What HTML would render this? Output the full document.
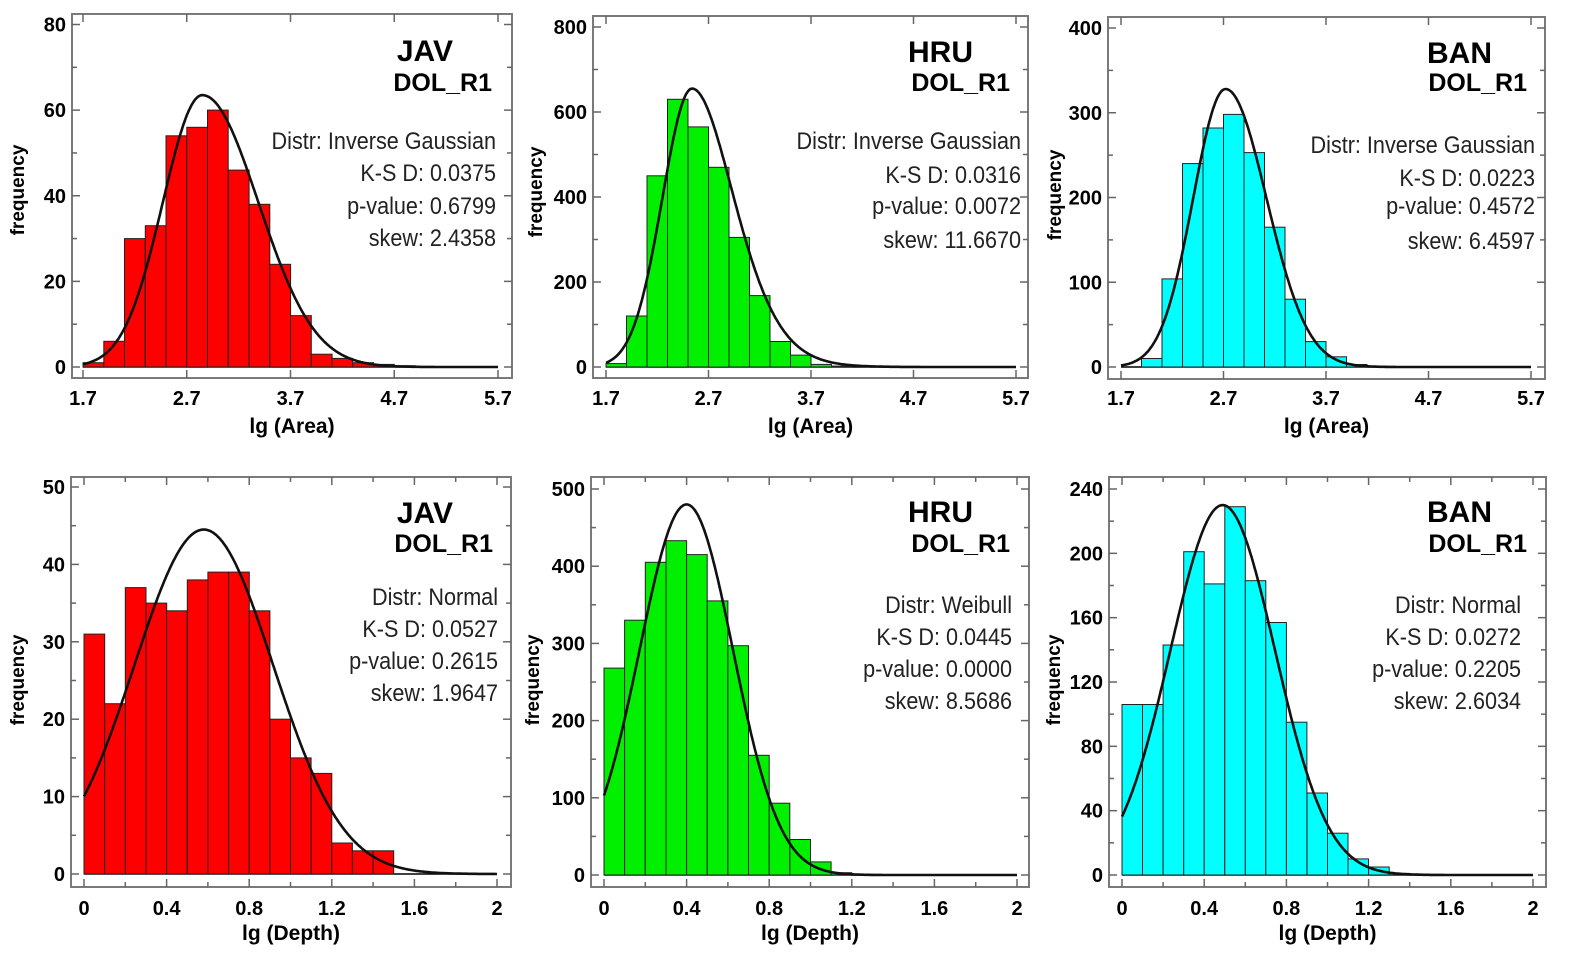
<!DOCTYPE html>
<html><head><meta charset="utf-8"><style>
body{margin:0;background:#fff;}
svg text{font-family:"Liberation Sans",Arial,sans-serif;}
</style></head><body>
<svg id="s" width="1569" height="964" xmlns="http://www.w3.org/2000/svg"></svg>
<script>
const P=[
{fl:72,fr:512,ft:14,fb:378,y0:367,ytop:24.5,ymax:80,ystep:20,yminor:10,x0v:1.7,x1v:5.7,x0:83,x1:498,xt:[1.7,2.7,3.7,4.7,5.7],xl:["1.7","2.7","3.7","4.7","5.7"],xminor:[],
 bs:1.7,bw:0.2,h:[1,6,30,33,54,56,60,46,38,24,12,3,2,1,0.6,0.3],col:"#ff0000",
 cm:2.85,ca:63.5,sl:0.38,sr:0.54,srk:0,t1:"JAV",t1r:453,t1y:60,t2r:492,t2y:91,sr_:496,sy:[148,180,213,245],
 st:["Distr: Inverse Gaussian","K-S D: 0.0375","p-value: 0.6799","skew: 2.4358"],xlab:"lg (Area)",ylx:24,yly:190,xty:404,xly:433},
{fl:593,fr:1028,ft:16,fb:378,y0:367,ytop:27,ymax:800,ystep:200,yminor:100,x0v:1.7,x1v:5.7,x0:606,x1:1016,xt:[1.7,2.7,3.7,4.7,5.7],xl:["1.7","2.7","3.7","4.7","5.7"],xminor:[],
 bs:1.7,bw:0.2,h:[8,120,450,630,565,470,305,168,60,28,6,2],col:"#00f000",
 cm:2.54,ca:655,sl:0.29,sr:0.38,srk:0.07,t1:"HRU",t1r:973,t1y:61,t2r:1010,t2y:91,sr_:1021,sy:[148,182,213,247],
 st:["Distr: Inverse Gaussian","K-S D: 0.0316","p-value: 0.0072","skew: 11.6670"],xlab:"lg (Area)",ylx:542,yly:192,xty:404,xly:433},
{fl:1108,fr:1545,ft:17,fb:379,y0:367,ytop:28,ymax:400,ystep:100,yminor:50,x0v:1.7,x1v:5.7,x0:1121,x1:1531,xt:[1.7,2.7,3.7,4.7,5.7],xl:["1.7","2.7","3.7","4.7","5.7"],xminor:[],
 bs:1.9,bw:0.2,h:[10,104,240,282,298,253,165,80,30,12,3,1],col:"#00ffff",
 cm:2.72,ca:328,sl:0.316,sr:0.40,srk:0,t1:"BAN",t1r:1492,t1y:62,t2r:1527,t2y:91,sr_:1535,sy:[152,185,213,248],
 st:["Distr: Inverse Gaussian","K-S D: 0.0223","p-value: 0.4572","skew: 6.4597"],xlab:"lg (Area)",ylx:1061,yly:195,xty:404,xly:433},
{fl:71,fr:511,ft:477,fb:887,y0:874,ytop:487,ymax:50,ystep:10,yminor:5,x0v:0,x1v:2,x0:84,x1:497,xt:[0,0.4,0.8,1.2,1.6,2],xl:["0","0.4","0.8","1.2","1.6","2"],xminor:[0.2,0.6,1.0,1.4,1.8],
 bs:0,bw:0.1,h:[31,22,37,35,34,38,39,39,34,20,15,13,4,3,3],col:"#ff0000",
 cm:0.58,ca:44.5,sl:0.336,sr:0.336,srk:0,t1:"JAV",t1r:453,t1y:522,t2r:493,t2y:552,sr_:498,sy:[604,636,668,700],
 st:["Distr: Normal","K-S D: 0.0527","p-value: 0.2615","skew: 1.9647"],xlab:"lg (Depth)",ylx:24,yly:680,xty:914,xly:940},
{fl:591,fr:1029,ft:477,fb:887,y0:875,ytop:489,ymax:500,ystep:100,yminor:50,x0v:0,x1v:2,x0:604,x1:1017,xt:[0,0.4,0.8,1.2,1.6,2],xl:["0","0.4","0.8","1.2","1.6","2"],xminor:[0.2,0.6,1.0,1.4,1.8],
 bs:0,bw:0.1,h:[268,330,405,433,415,355,297,155,93,46,17,3,1],col:"#00f000",
 cm:0.4,ca:480,sl:0.228,sr:0.225,srk:0,t1:"HRU",t1r:973,t1y:521,t2r:1010,t2y:552,sr_:1012,sy:[612,644,676,708],
 st:["Distr: Weibull","K-S D: 0.0445","p-value: 0.0000","skew: 8.5686"],xlab:"lg (Depth)",ylx:539,yly:680,xty:914,xly:940},
{fl:1109,fr:1546,ft:477,fb:887,y0:875,ytop:489,ymax:240,ystep:40,yminor:20,x0v:0,x1v:2,x0:1122,x1:1533,xt:[0,0.4,0.8,1.2,1.6,2],xl:["0","0.4","0.8","1.2","1.6","2"],xminor:[0.2,0.6,1.0,1.4,1.8],
 bs:0,bw:0.1,h:[106,106,143,201,181,229,183,157,95,51,26,10,5,1],col:"#00ffff",
 cm:0.49,ca:230,sl:0.255,sr:0.255,srk:0,t1:"BAN",t1r:1492,t1y:521,t2r:1527,t2y:552,sr_:1521,sy:[612,644,676,708],
 st:["Distr: Normal","K-S D: 0.0272","p-value: 0.2205","skew: 2.6034"],xlab:"lg (Depth)",ylx:1060,yly:680,xty:914,xly:940}
];
let o="";
for(const p of P){
 const X=v=>p.x0+(v-p.x0v)*(p.x1-p.x0)/(p.x1v-p.x0v);
 const Y=v=>p.y0-v*(p.y0-p.ytop)/p.ymax;
 o+=`<line x1="${p.x0}" y1="${p.y0}" x2="${p.x1}" y2="${p.y0}" stroke="#000" stroke-width="1.5"/>`;
 p.h.forEach((h,i)=>{const a=X(p.bs+i*p.bw),b=X(p.bs+(i+1)*p.bw),y=Y(h);
  o+=`<rect x="${a.toFixed(1)}" y="${y.toFixed(1)}" width="${(b-a).toFixed(1)}" height="${(p.y0-y).toFixed(1)}" fill="${p.col}" stroke="#222" stroke-width="1"/>`;});
 let d="";
 for(let v=p.x0v;v<=p.x1v+1e-9;v+=(p.x1v-p.x0v)/400){
  let s=v<p.cm?p.sl:p.sr+p.srk*(v-p.cm);
  let f=p.ca*Math.exp(-0.5*Math.pow((v-p.cm)/s,2));
  d+=(d?"L":"M")+X(v).toFixed(1)+","+Y(f).toFixed(1);
 }
 o+=`<path d="${d}" fill="none" stroke="#111" stroke-width="2.6"/>`;
 o+=`<rect x="${p.fl}" y="${p.ft}" width="${p.fr-p.fl}" height="${p.fb-p.ft}" fill="none" stroke="#7a7a7a" stroke-width="2"/>`;
 for(let v=0;v<=p.ymax+1e-9;v+=p.yminor){const y=Y(v),maj=Math.abs(v/p.ystep-Math.round(v/p.ystep))<1e-6,l=maj?8:5;
  o+=`<line x1="${p.fl}" y1="${y}" x2="${p.fl+l}" y2="${y}" stroke="#666" stroke-width="1.5"/><line x1="${p.fr}" y1="${y}" x2="${p.fr-l}" y2="${y}" stroke="#666" stroke-width="1.5"/>`;
  if(maj) o+=`<text x="${p.fl-6}" y="${y+7}" text-anchor="end" font-size="20" font-weight="bold">${Math.round(v)}</text>`;}
 p.xt.forEach((v,i)=>{const x=X(v);
  o+=`<line x1="${x}" y1="${p.fb}" x2="${x}" y2="${p.fb-8}" stroke="#666" stroke-width="1.5"/><line x1="${x}" y1="${p.ft}" x2="${x}" y2="${p.ft+8}" stroke="#666" stroke-width="1.5"/>`;
  o+=`<text x="${x}" y="${p.xty+1}" text-anchor="middle" font-size="20" font-weight="bold">${p.xl[i]}</text>`;});
 p.xminor.forEach(v=>{const x=X(v);
  o+=`<line x1="${x}" y1="${p.fb}" x2="${x}" y2="${p.fb-5}" stroke="#666" stroke-width="1.5"/><line x1="${x}" y1="${p.ft}" x2="${x}" y2="${p.ft+5}" stroke="#666" stroke-width="1.5"/>`;});
 o+=`<text x="${p.t1r}" y="${p.t1y+1}" text-anchor="end" font-size="30" font-weight="bold">${p.t1}</text>`;
 o+=`<text x="${p.t2r}" y="${p.t2y}" text-anchor="end" font-size="25" font-weight="bold">DOL_R1</text>`;
 p.st.forEach((t,i)=>{o+=`<g transform="translate(${p.sr_},${p.sy[i]+1}) scale(0.9,1)"><text x="0" y="0" text-anchor="end" font-size="24" fill="#222">${t}</text></g>`;});
 o+=`<text x="${(p.fl+p.fr)/2}" y="${p.xly}" text-anchor="middle" font-size="21" font-weight="bold">${p.xlab}</text>`;
 o+=`<text transform="translate(${p.ylx},${p.yly}) rotate(-90)" text-anchor="middle" font-size="19" font-weight="bold">frequency</text>`;
}
document.getElementById("s").innerHTML=o;
</script>
</body></html>
